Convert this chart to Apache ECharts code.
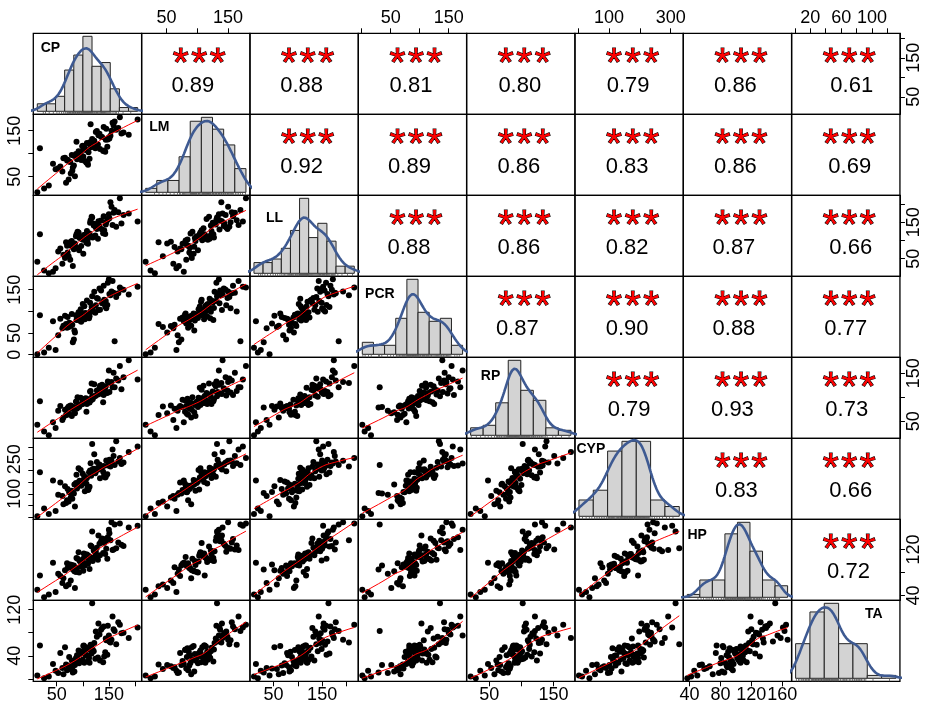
<!DOCTYPE html>
<html>
<head>
<meta charset="utf-8">
<script src="https://cdn.jsdelivr.net/npm/echarts@6/dist/echarts.min.js"></script>
<style>
html,body{margin:0;padding:0;background:#fff}
#pairs_chart{width:926px;height:706px}
</style>
</head>
<body>
<div id="pairs_chart"></div>
<script>
//变量名
var varNames = ['CP', 'LM', 'LL', 'PCR', 'RP', 'CYP', 'HP', 'TA'];

//观测值 (87 个样本)
var CP = [48,77,26,68,81,61,13,73,85,53,80,35,70,83,63,18,76,84,43,71,57,79,66,74,
  93,107,89,101,110,97,87,104,113,94,109,90,102,111,99,88,106,112,92,103,96,108,100,105,
  119,139,116,129,143,124,114,133,147,121,141,117,130,144,125,115,137,145,118,132,122,140,127,135,
  157,151,174,164,148,205,159,153,178,168,150,155,188,161,171];
var LM = [66,57,24,37,70,61,16,44,51,68,63,31,
  85,74,90,112,82,95,78,87,72,97,91,83,101,80,88,94,76,86,99,84,89,96,81,92,
  111,103,116,126,108,121,105,113,102,123,117,109,127,106,114,120,104,112,125,110,115,122,107,119,
  140,130,147,164,136,154,132,143,128,158,149,137,167,133,144,152,131,174,161,139,146,156,135,150,
  141,170,179];
var LL = [24,97,18,95,30,36,
  42,57,92,70,82,10,86,76,61,117,47,83,14,67,78,99,52,88,73,94,80,64,91,85,
  112,103,119,107,100,124,115,109,104,117,101,113,122,106,110,126,102,116,108,120,111,105,118,114,
  149,134,159,141,128,165,153,144,136,156,130,150,163,140,146,167,132,155,143,161,147,138,158,152,
  176,205,170,178,172,193,174,184,216];
var PCR = [11,66,5,71,29,61,1,64,51,45,69,16,62,35,67,91,72,56,
  77,87,83,94,90,74,85,92,81,95,86,76,91,82,89,79,95,86,82,93,88,80,91,84,
  98,112,105,125,117,96,108,122,101,129,111,97,120,104,115,99,127,110,103,124,114,100,119,107,
  135,153,145,159,131,148,170,140,151,133,166,157,143,137,150,142,174,146,139,31,155];
var RP = [36,83,29,
  63,79,53,43,81,67,72,76,21,64,80,58,92,82,69,48,78,82,61,74,66,80,70,77,
  87,95,85,91,97,89,84,93,100,88,96,86,92,98,90,84,94,99,86,92,88,96,90,94,
  106,120,103,112,124,109,101,116,129,107,123,104,113,126,110,102,119,127,105,114,108,121,111,117,
  139,133,137,151,130,142,135,156,132,177,121,165];
var CYP = [25,84,36,60,103,90,2,66,45,96,78,12,72,101,54,
  194,108,140,158,121,149,113,133,106,153,143,123,160,116,135,147,111,130,156,126,138,151,118,145,
  183,165,194,211,176,203,169,187,162,207,196,178,213,171,189,201,167,185,209,180,192,205,174,198,
  233,217,245,316,227,272,221,238,215,292,248,229,328,223,305,264,219,236,240,231,243,281,225,255];
var HP = [46,66,37,56,85,62,50,59,53,
  78,89,42,96,92,70,75,94,82,97,88,74,93,84,91,80,96,88,83,95,90,81,92,86,
  100,107,104,113,109,98,105,111,102,115,106,99,111,103,108,100,114,106,102,112,108,101,110,104,
  118,131,125,144,135,116,127,139,121,151,130,117,138,123,134,119,148,128,122,141,161,120,136,126,
  132,154,167,158,163,165];
var TA = [14,22,1,25,11,19,6,17,24,10,20,4,15,24,8,58,18,13,26,23,
  45,32,55,38,27,50,41,57,31,47,36,53,28,43,51,34,58,40,47,30,55,36,49,28,44,54,33,41,51,29,56,37,46,35,52,32,42,48,39,44,
  96,70,82,59,88,67,131,77,62,91,73,85,108,65,79,60,92,89,86,63,80,98,75,68,71,83,94];

//相关系数 (上三角, 按行)
var corrRows = [
  ['0.89','0.88','0.81','0.80','0.79','0.86','0.61'],
  ['0.92','0.89','0.86','0.83','0.86','0.69'],
  ['0.88','0.86','0.82','0.87','0.66'],
  ['0.87','0.90','0.88','0.77'],
  ['0.79','0.93','0.73'],
  ['0.83','0.66'],
  ['0.72']
];
//显著性星号个数
var corrStars = [
  [3,3,3,3,3,3,3],
  [3,3,3,3,3,3],
  [3,3,3,3,3],
  [3,3,3,3],
  [3,3,3],
  [3,3],
  [3]
];

//直方图分组
var histStart = [0, 0, 0, 0, 20, 0, 20, 0];
var histWidth = [20, 20, 20, 20, 20, 50, 20, 20];

//坐标轴刻度
var topTicks = {LM: [50,100,150], PCR: [0,50,100,150], CYP: [0,100,200,300], TA: [0,20,40,60,80,100,120]};
var topLabels = {LM: [50,150], PCR: [50,150], CYP: [100,300], TA: [20,60,100]};
var bottomTicks = {CP: [50,100,150,200], LL: [50,100,150,200], RP: [50,100,150], HP: [40,80,120,160]};
var bottomLabels = {CP: [50,150], LL: [50,150], RP: [50,150], HP: [40,80,120,160]};
var leftTicks = {LM: [50,100,150], PCR: [0,50,100,150], CYP: [0,50,100,150,200,250,300], TA: [0,40,80,120]};
var leftLabels = {LM: [50,150], PCR: [0,50,150], CYP: [100,250], TA: [40,120]};
var rightTicks = {CP: [50,100,150,200], LL: [50,100,150,200], RP: [50,100,150], HP: [40,80,120]};
var rightLabels = {CP: [50,150], LL: [50,150], RP: [50,150], HP: [40,120]};

//版面
var plotLeft = 33.3, plotTop = 33.3, cellW = 108.33, cellH = 81;
var nameOffset = [[7.4,14.7],[7.5,12.7],[16,23],[6.8,18],[14.2,18.4],[1.5,10.7],[4.2,15.4],[73.3,13.8]];
//相关系数文字的水平微调 (px)
var numShift = [
  [-3,-2.5,-1.5,-1,-1,-2,6],
  [-2.5,-3,-2,-2,-2,4],
  [-3.5,-2,-2,-3.5,5],
  [-3.5,-2,-3.5,0],
  [0,-5,1],
  [-1,5],
  [2.7]
];
var fontFam = "'Liberation Sans', Arial, Helvetica, sans-serif";

var dataVars = [CP, LM, LL, PCR, RP, CYP, HP, TA];

var padRange = function (arr) {
  var lo = Math.min.apply(null, arr), hi = Math.max.apply(null, arr);
  var d = (hi - lo) * 0.04;
  return [lo - d, hi + d];
};

var histBins = function (arr, start, width) {
  var hi = Math.max.apply(null, arr);
  var nb = Math.floor((hi - start) / width) + 1;
  var counts = [];
  for (var b = 0; b < nb; b++) counts.push(0);
  arr.forEach(function (v) { counts[Math.floor((v - start) / width)]++; });
  var bins = [], dmax = 0;
  for (b = 0; b < nb; b++) {
    var dens = counts[b] / (arr.length * width);
    dmax = Math.max(dmax, dens);
    bins.push([start + b * width, start + (b + 1) * width, dens]);
  }
  return {bins: bins, lo: start, hi: start + nb * width, dmax: dmax};
};

var quantile = function (sorted, p) {
  var h = (sorted.length - 1) * p, lo = Math.floor(h);
  return sorted[lo] + (h - lo) * ((sorted[lo + 1] === undefined ? sorted[lo] : sorted[lo + 1]) - sorted[lo]);
};

//核密度 (bw.nrd0)
var kde = function (arr) {
  var n = arr.length;
  var mean = arr.reduce(function (a, b) { return a + b; }, 0) / n;
  var sd = Math.sqrt(arr.reduce(function (a, b) { return a + (b - mean) * (b - mean); }, 0) / (n - 1));
  var s = arr.slice().sort(function (a, b) { return a - b; });
  var iqr = quantile(s, 0.75) - quantile(s, 0.25);
  var bw = 0.9 * Math.min(sd, iqr / 1.34) * Math.pow(n, -0.2);
  var from = s[0] - 3 * bw, to = s[n - 1] + 3 * bw, out = [];
  for (var g = 0; g <= 200; g++) {
    var x = from + (to - from) * g / 200, sum = 0;
    for (var i = 0; i < n; i++) {
      var z = (x - arr[i]) / bw;
      sum += Math.exp(-0.5 * z * z);
    }
    out.push([x, sum / (n * bw * Math.sqrt(2 * Math.PI))]);
  }
  return out;
};

var median = function (a) {
  var s = a.slice().sort(function (p, q) { return p - q; });
  var m = Math.floor(s.length / 2);
  return s.length % 2 ? s[m] : (s[m - 1] + s[m]) / 2;
};

//lowess 平滑线
var lowess = function (xs, ys) {
  var idx = xs.map(function (v, i) { return i; }).sort(function (a, b) { return xs[a] - xs[b]; });
  var x = idx.map(function (i) { return xs[i]; }), y = idx.map(function (i) { return ys[i]; });
  var n = x.length, ns = Math.max(2, Math.min(n, Math.floor(n * 2 / 3 + 1e-7)));
  var rw = x.map(function () { return 1; }), fit = [];
  for (var it = 0; it <= 3; it++) {
    var nleft = 0, nright = ns - 1;
    for (var i = 0; i < n; i++) {
      while (nright < n - 1 && x[i] - x[nleft] > x[nright + 1] - x[i]) { nleft++; nright++; }
      var h = Math.max(x[i] - x[nleft], x[nright] - x[i]);
      var sw = 0, sx = 0, sy = 0, sxx = 0, sxy = 0;
      for (var j = 0; j < n; j++) {
        var d = Math.abs(x[j] - x[i]);
        if (d > 0.999 * h) continue;
        var w = d <= 0.001 * h ? 1 : Math.pow(1 - Math.pow(d / h, 3), 3);
        w *= rw[j];
        sw += w; sx += w * x[j]; sy += w * y[j]; sxx += w * x[j] * x[j]; sxy += w * x[j] * y[j];
      }
      if (sw <= 0) { fit[i] = y[i]; continue; }
      var mx = sx / sw, my = sy / sw, vx = sxx / sw - mx * mx;
      var b = vx > 1e-8 ? (sxy / sw - mx * my) / vx : 0;
      fit[i] = my + b * (x[i] - mx);
    }
    if (it === 3) break;
    var res = y.map(function (v, q) { return v - fit[q]; });
    var cmad = 6 * median(res.map(Math.abs));
    rw = res.map(function (r) {
      var u = Math.abs(r) / cmad;
      return u < 1 ? Math.pow(1 - u * u, 2) : 0;
    });
  }
  return x.map(function (v, i) { return [v, fit[i]]; });
};

var ranges = dataVars.map(padRange);

var makeAxis = function (k, range, pos, ticks, labels, isY) {
  var ax = {
    gridIndex: k, type: 'value', min: range[0], max: range[1],
    show: !!pos, splitLine: {show: false}
  };
  if (!pos) return ax;
  ax.position = pos;
  ax.axisLine = {show: true, onZero: false, lineStyle: {color: '#000', width: 1}};
  ax.axisTick = {show: true, inside: false, length: 5, customValues: ticks, lineStyle: {color: '#000', width: 1}};
  var margin = pos === 'top' ? 6 : pos === 'bottom' ? 5 : pos === 'left' ? 9 : 5;
  ax.axisLabel = {
    show: true, customValues: labels, fontSize: 18, color: '#000', fontFamily: fontFam,
    margin: margin, rotate: isY ? 90 : 0,
    formatter: function (v) { return String(v); }
  };
  return ax;
};

var starText = function (cnt) {
  var s = '';
  for (var q = 0; q < cnt; q++) s += '{s|*}';
  return s;
};

var grids = [], xAxes = [], yAxes = [], series = [];

for (var i = 0; i < 8; i++) {
  for (var j = 0; j < 8; j++) {
    var k = i * 8 + j;
    grids.push({
      left: plotLeft + j * cellW, top: plotTop + i * cellH, width: cellW, height: cellH,
      show: true, borderColor: '#000', borderWidth: 1.3, backgroundColor: 'transparent'
    });
    if (i === j) {
      var arr = dataVars[i];
      var hb = histBins(arr, histStart[i], histWidth[i]);
      var span = hb.hi - hb.lo;
      xAxes.push({gridIndex: k, type: 'value', min: hb.lo - 0.04 * span, max: hb.hi + 0.04 * span, show: false});
      yAxes.push({gridIndex: k, type: 'value', min: -0.04 * hb.dmax, max: 1.04 * hb.dmax, show: false});
      series.push({
        type: 'custom', xAxisIndex: k, yAxisIndex: k, data: hb.bins, silent: true, z: 2,
        encode: {x: [0, 1], y: 2},
        renderItem: function (params, api) {
          var a = api.coord([api.value(0), api.value(2)]);
          var b = api.coord([api.value(1), 0]);
          return {
            type: 'rect',
            shape: {x: a[0], y: a[1], width: b[0] - a[0], height: b[1] - a[1]},
            style: {fill: '#D3D3D3', stroke: '#222', lineWidth: 1}
          };
        }
      });
      series.push({
        type: 'scatter', xAxisIndex: k, yAxisIndex: k, silent: true, clip: false, z: 2,
        symbol: 'rect', symbolSize: [0.8, 2.6], symbolOffset: [0, -1.3],
        itemStyle: {color: '#555', opacity: 1},
        data: arr.map(function (v) { return [v, -0.04 * hb.dmax]; })
      });
      series.push({
        type: 'line', xAxisIndex: k, yAxisIndex: k, silent: true, clip: false, z: 6,
        showSymbol: false, smooth: false,
        lineStyle: {color: '#3E5A92', width: 2.6},
        data: kde(arr)
      });
      continue;
    }
    var xName = varNames[j], yName = varNames[i];
    var xPos = (i === 0 && j % 2 === 1) ? 'top' : (i === 7 && j % 2 === 0) ? 'bottom' : null;
    var yPos = (j === 0 && i % 2 === 1) ? 'left' : (j === 7 && i % 2 === 0) ? 'right' : null;
    xAxes.push(makeAxis(k, ranges[j], xPos,
      xPos === 'top' ? topTicks[xName] : bottomTicks[xName],
      xPos === 'top' ? topLabels[xName] : bottomLabels[xName], false));
    yAxes.push(makeAxis(k, ranges[i], yPos,
      yPos === 'left' ? leftTicks[yName] : rightTicks[yName],
      yPos === 'left' ? leftLabels[yName] : rightLabels[yName], true));

    if (i > j) {
      var xs = dataVars[j], ys = dataVars[i];
      series.push({
        type: 'scatter', xAxisIndex: k, yAxisIndex: k, silent: true, z: 2,
        symbolSize: 6, itemStyle: {color: '#000', opacity: 1},
        data: xs.map(function (v, q) { return [v, ys[q]]; })
      });
      series.push({
        type: 'line', xAxisIndex: k, yAxisIndex: k, silent: true, z: 3,
        showSymbol: false, lineStyle: {color: '#FF0000', width: 1},
        data: lowess(xs, ys)
      });
    } else {
      var xr = ranges[j], yr = ranges[i];
      var xc = (xr[0] + xr[1]) / 2;
      var c = j - i - 1;
      series.push({
        type: 'scatter', xAxisIndex: k, yAxisIndex: k, silent: true, z: 5,
        symbolSize: 1, itemStyle: {color: 'rgba(0,0,0,0)', opacity: 1},
        data: [
          {value: [xc, yr[1] - 0.39 * (yr[1] - yr[0])],
           label: {show: true, position: 'inside', offset: [3.5, 0], formatter: starText(corrStars[i][c]),
             rich: {s: {fontSize: 41, color: '#FF0000', fontFamily: fontFam,
               textBorderColor: '#000', textBorderWidth: 1.1, padding: [0, 1.3, 0, 1.3]}}}},
          {value: [xc, yr[1] - 0.655 * (yr[1] - yr[0])],
           label: {show: true, position: 'inside', offset: [numShift[i][c], 0], formatter: corrRows[i][c],
             fontSize: 22, color: '#000', fontFamily: fontFam}}
        ]
      });
    }
  }
}

var pairs_setting = {
  animation: false,
  backgroundColor: '#fff',
  grid: grids,
  xAxis: xAxes,
  yAxis: yAxes,
  series: series,
  graphic: varNames.map(function (nm, q) {
    return {
      type: 'text', z: 20,
      x: plotLeft + q * cellW + nameOffset[q][0],
      y: plotTop + q * cellH + nameOffset[q][1],
      style: {text: nm, fill: '#000', font: 'bold 14px ' + fontFam,
        align: 'left', verticalAlign: 'middle', textAlign: 'left', textVerticalAlign: 'middle'}
    };
  })
};

var pairs_chart = echarts.init(document.getElementById('pairs_chart'), null, {renderer: 'canvas'});
pairs_chart.setOption(pairs_setting);
</script>
</body>
</html>
